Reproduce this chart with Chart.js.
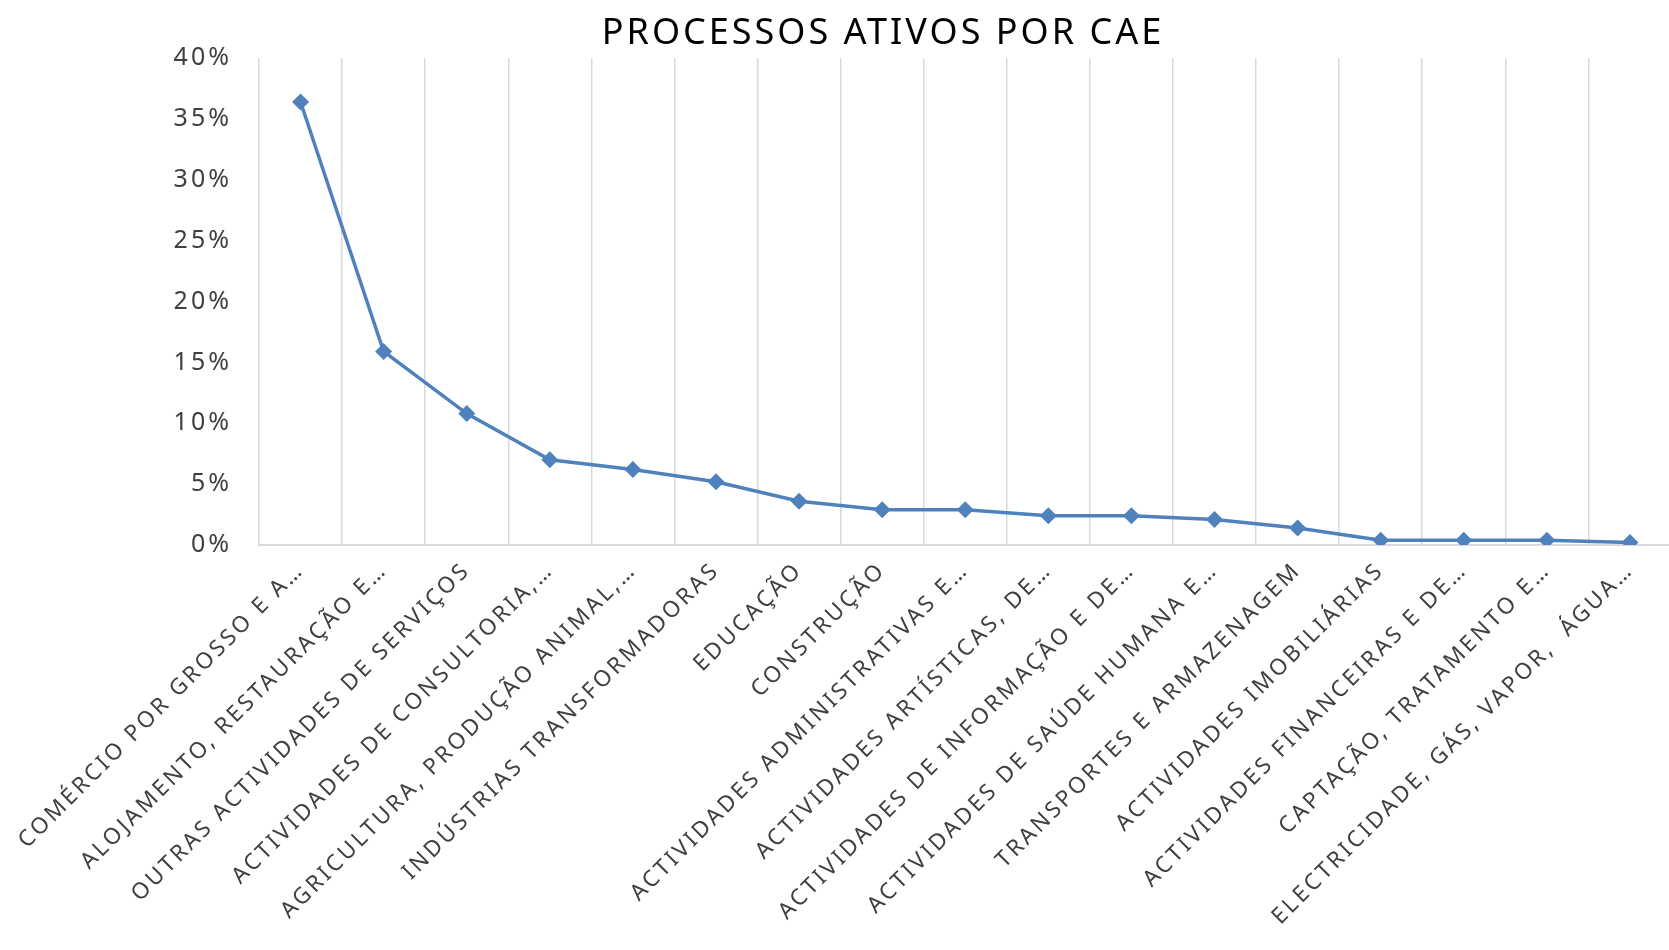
<!DOCTYPE html>
<html>
<head>
<meta charset="utf-8">
<script src="https://cdn.jsdelivr.net/npm/chart.js@4"></script>
<style>
  html, body { margin: 0; padding: 0; background: #fff; overflow: hidden; }
  #wrap { width: 1680px; height: 950px; }
</style>
</head>
<body>
<div id="wrap"><canvas id="chart"></canvas></div>
<script>
const title = "PROCESSOS ATIVOS POR CAE";

const categories = [
	"COMÉRCIO POR GROSSO E A…",
	"ALOJAMENTO, RESTAURAÇÃO E…",
	"OUTRAS ACTIVIDADES DE SERVIÇOS",
	"ACTIVIDADES DE CONSULTORIA,…",
	"AGRICULTURA, PRODUÇÃO ANIMAL,…",
	"INDÚSTRIAS TRANSFORMADORAS",
	"EDUCAÇÃO",
	"CONSTRUÇÃO",
	"ACTIVIDADES ADMINISTRATIVAS E…",
	"ACTIVIDADES ARTÍSTICAS, DE…",
	"ACTIVIDADES DE INFORMAÇÃO E DE…",
	"ACTIVIDADES DE SAÚDE HUMANA E…",
	"TRANSPORTES E ARMAZENAGEM",
	"ACTIVIDADES IMOBILIÁRIAS",
	"ACTIVIDADES FINANCEIRAS E DE…",
	"CAPTAÇÃO, TRATAMENTO E…",
	"ELECTRICIDADE, GÁS, VAPOR,  ÁGUA…",
];

// share of active processes, in %
const shares = [36.4, 15.9, 10.8, 7.0, 6.2, 5.2, 3.6, 2.9, 2.9, 2.4, 2.4, 2.1, 1.4, 0.4, 0.4, 0.4, 0.2];

const yTicks = [0, 5, 10, 15, 20, 25, 30, 35, 40];

const blue = "#4F81BD";
const grid = "#D9D9D9";
const text = "#404040";

// Excel-ish spaced lettering for all chart text
const spacing = {
	id: "spacing",
	beforeDraw: (chart) => {
		chart.ctx.letterSpacing = "3px";
	},
};

const ctx = document.getElementById("chart");

new Chart(ctx, {
	type: "line",
	data: {
		labels: categories,
		datasets: [
			{
				data: shares,
				borderColor: blue,
				backgroundColor: blue,
				borderWidth: 3.5,
				tension: 0,
				pointStyle: "rectRot",
				pointRadius: 8.5,
				pointHoverRadius: 8.5,
				pointBorderWidth: 0,
			},
		],
	},
	plugins: [spacing],
	options: {
		responsive: true,
		maintainAspectRatio: false,
		animation: false,
		layout: { padding: { left: 90, right: 4, top: 0, bottom: 0 } },
		plugins: {
			legend: { display: false },
			tooltip: { enabled: false },
			title: {
				display: true,
				text: title,
				color: "#000",
				font: { family: "'Noto Sans'", size: 36, weight: "normal" },
				padding: { top: 12, bottom: 3 },
			},
		},
		scales: {
			x: {
				offset: true,
				grid: { offset: true, color: grid, lineWidth: 1.5, drawTicks: false },
				border: { color: grid, width: 2 },
				ticks: {
					autoSkip: false,
					maxRotation: 45,
					minRotation: 45,
					padding: 12,
					color: text,
					font: { family: "'Noto Sans'", size: 22.5 },
				},
				afterFit: (scale) => {
					scale.paddingLeft = 0;
					scale.paddingRight = 0;
					scale.height = 405;
				},
			},
			y: {
				min: 0,
				max: 40,
				afterBuildTicks: (scale) => {
					scale.ticks = yTicks.map((v) => ({ value: v }));
				},
				grid: { display: false },
				border: { display: false },
				ticks: {
					padding: 19,
					color: text,
					font: { family: "'Noto Sans'", size: 25 },
					callback: (v) => v + "%",
				},
				afterFit: (scale) => {
					scale.width = 169;
				},
			},
		},
	},
});
</script>
</body>
</html>
